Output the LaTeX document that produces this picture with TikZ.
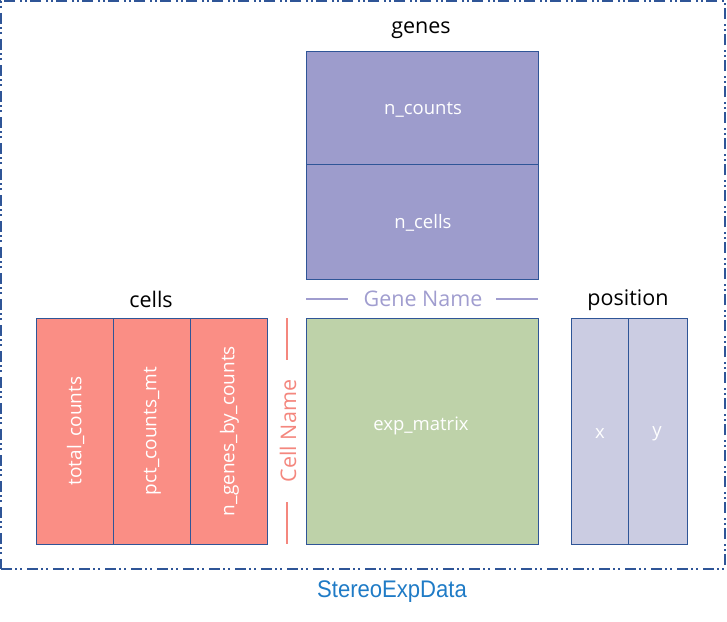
\documentclass[tikz,border=0pt]{standalone}
\usepackage{fontspec}
\setmainfont{Open Sans}
\newfontfamily\condfont[FakeStretch=0.92]{Liberation Sans}
\definecolor{edge}{HTML}{2F5597}
\definecolor{genefill}{HTML}{9D9CCC}
\definecolor{cellfill}{HTML}{FA8E85}
\definecolor{expfill}{HTML}{BED2A9}
\definecolor{posfill}{HTML}{CBCCE2}
\definecolor{genename}{HTML}{A09DCF}
\definecolor{cellname}{HTML}{F4877E}
\definecolor{titleblue}{HTML}{1F7BC6}
\tikzset{
  box/.style={draw=edge, line width=1pt, inner sep=0pt, outer sep=0pt, anchor=north west},
  htext/.style={text=white, font=\fontsize{18.5}{22}\selectfont, inner sep=0pt},
  vtext/.style={rotate=90, text=white, font=\fontsize{19}{22}\selectfont, inner sep=0pt},
  title/.style={font=\fontsize{21.5}{24}\selectfont, text=black, inner sep=0pt},
  axisname/.style={font=\fontsize{21.5}{24}\selectfont, inner sep=0pt},
}
\begin{document}
\begin{tikzpicture}[x=1pt,y=-1pt]
\useasboundingbox (0,0) rectangle (727,621);
% outer frame
\node[draw=edge, line width=1.3pt, dash pattern=on 11pt off 3pt on 2pt off 3pt on 2pt off 5pt,
  inner sep=0pt, outer sep=0pt, anchor=north west, minimum width=724pt, minimum height=568pt] (frame) at (1,1) {};
\node[font=\condfont\fontsize{24}{28}\selectfont, text=titleblue, inner sep=0pt] (sed) at (392,592) {StereoExpData};
% genes
\node[title] (genest) at (421,30) {genes};
\node[box, fill=genefill, minimum width=232pt, minimum height=113pt] (ncounts) at (306,51) {};
\node[box, fill=genefill, minimum width=232pt, minimum height=115pt] (ncells) at (306,164) {};
\node[htext] (ncountst) at (423,110) {n\_counts};
\node[htext] (ncellst) at (423,223) {n\_cells};
% gene name
\node[axisname, text=genename] (gname) at (423,299) {Gene Name};
\coordinate (gl) at (306,299);
\coordinate (gl2) at (348,299);
\coordinate (gr2) at (496,299);
\coordinate (gr) at (538,299);
\draw[genename, line width=1.6pt] (gl) -- (gl2);
\draw[genename, line width=1.6pt] (gr2) -- (gr);
% expression matrix
\node[box, fill=expfill, minimum width=232pt, minimum height=226pt] (exp) at (306,318) {};
\node[htext] (expt) at (421,426) {exp\_matrix};
% cells
\node[title] (cellst) at (151,299) {cells};
\node[box, fill=cellfill, minimum width=77pt, minimum height=226pt] (tc) at (36,318) {};
\node[box, fill=cellfill, minimum width=77pt, minimum height=226pt] (pc) at (113,318) {};
\node[box, fill=cellfill, minimum width=77pt, minimum height=226pt] (ng) at (190,318) {};
\node[vtext] (tct) at ([xshift=1pt]tc.center) {total\_counts};
\node[vtext] (pct) at ([xshift=1pt]pc.center) {pct\_counts\_mt};
\node[vtext] (ngt) at ([xshift=1pt]ng.center) {n\_genes\_by\_counts};
% cell name
\node[axisname, rotate=90, text=cellname] (cname) at (288,431) {Cell Name};
\coordinate (ct) at (287,318);
\coordinate (ct2) at (287,360);
\coordinate (cb2) at (287,502);
\coordinate (cb) at (287,544);
\draw[cellname, line width=1.6pt] (ct) -- (ct2);
\draw[cellname, line width=1.6pt] (cb2) -- (cb);
% position
\node[title] (post) at (628,300) {position};
\node[box, fill=posfill, minimum width=57pt, minimum height=226pt] (px) at (571,318) {};
\node[box, fill=posfill, minimum width=59pt, minimum height=226pt] (py) at (628,318) {};
\node[htext] (pxt) at (600,434) {x};
\node[htext] (pyt) at (657,434) {y};
\end{tikzpicture}
\end{document}
